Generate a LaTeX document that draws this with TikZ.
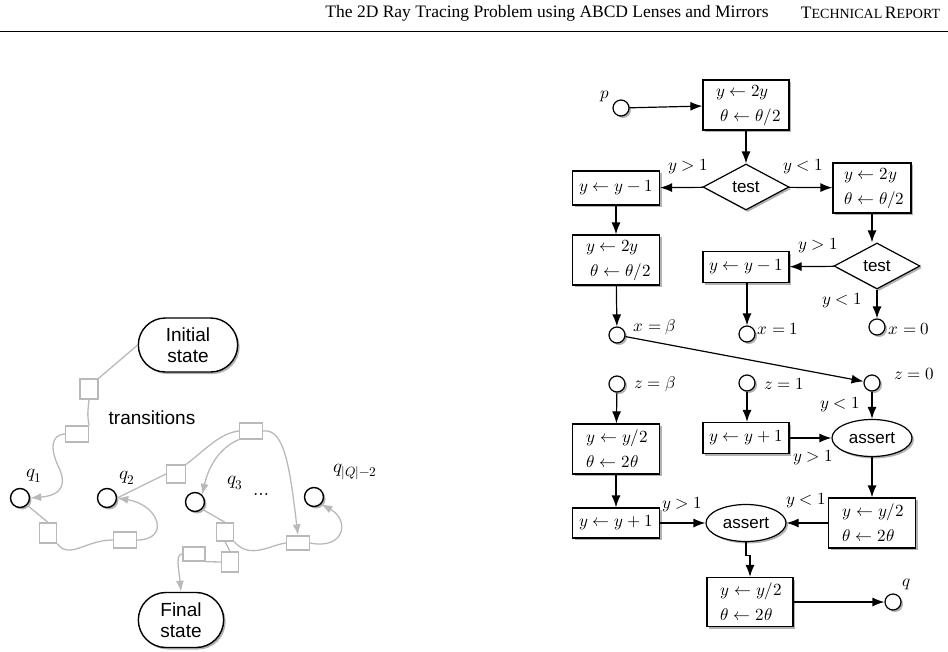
\documentclass[tikz,border=0pt]{standalone}
\usepackage{fontspec}
\setmainfont{Liberation Serif}
\usepackage{unicode-math}
\setmathfont{Latin Modern Math}
\newfontfamily\arialf{Liberation Sans}
\usetikzlibrary{arrows.meta,shapes.geometric,shapes.misc,shadows}
\newcommand{\fsc}[2]{{\fontsize{17.5}{20}\selectfont #1}{\fontsize{14}{20}\selectfont #2}}
\begin{document}
\begin{tikzpicture}[x=1pt,y=-1pt,line width=1.2pt,
  sh/.style={drop shadow={shadow xshift=2pt,shadow yshift=-2pt,opacity=0.3,fill=black}},
  box/.style={draw,fill=white,sh,inner sep=0pt,align=left,font=\fontsize{17}{25}\selectfont},
  dia/.style={draw,diamond,aspect=1.9,fill=white,inner sep=1pt,minimum width=86pt,minimum height=46pt,font=\arialf\fontsize{17}{19}\selectfont,sh},
  ell/.style={draw,ellipse,fill=white,minimum width=80pt,minimum height=37pt,inner sep=0pt,font=\arialf\fontsize{17}{19}\selectfont,sh},
  st/.style={draw,circle,fill=white,minimum size=16pt,inner sep=0pt,sh},
  lab/.style={font=\fontsize{17}{19}\selectfont,inner sep=1pt},
  ar/.style={-{Latex[length=12pt,width=9pt]}},
  gbox/.style={draw=gray!55,line width=1.3pt,fill=white,inner sep=0pt},
  gl/.style={draw=gray!55,line width=1.3pt},
  ga/.style={draw=gray!55,line width=1.3pt,-{Latex[length=11pt,width=8pt]}},
  lstate/.style={draw,line width=1.4pt,rounded rectangle,fill=white,align=center,font=\arialf\fontsize{19}{21}\selectfont,sh},
  q/.style={draw,line width=1.4pt,circle,fill=white,minimum size=19pt,inner sep=0pt,sh},
  ql/.style={font=\fontsize{19}{21}\selectfont}]
\useasboundingbox (0,0) rectangle (948,651);
% header
\node[font=\fontsize{17.5}{20}\selectfont] (title) at (547,13) {The 2D Ray Tracing Problem using ABCD Lenses and Mirrors};
\node[anchor=east] (tr) at (944,13) {\fsc{T}{ECHNICAL} \fsc{R}{EPORT}};
\coordinate (hl) at (0,31); \coordinate (hr) at (948,31);
\draw[line width=1pt] (hl) -- (hr);

% ---------- left diagram ----------
\node[lstate,minimum width=106pt,minimum height=54pt] (init) at (188,345) {Initial\\state};
\node[lstate,minimum width=92pt,minimum height=55pt] (fin) at (181,620) {Final\\state};
\node[font=\arialf\fontsize{19}{21}\selectfont] (trans) at (152,418) {transitions};
\node[q] (q1) at (20,498) {};
\node[q] (q2) at (107,498) {};
\node[q] (q3) at (195,502) {};
\node[q] (qn) at (314,497) {};
\node[ql] (lq1) at (34,476) {$q_1$};
\node[ql] (lq2) at (127,478) {$q_2$};
\node[ql] (lq3) at (235,483) {$q_3$};
\node[ql] (lqn) at (355,472) {$q_{|Q|-2}$};
\node[ql] (dots) at (263,494) {$\dots$};
\node[gbox,minimum width=18pt,minimum height=20pt] (b1) at (89,389) {};
\node[gbox,minimum width=23pt,minimum height=16pt] (b2) at (77,434) {};
\node[gbox,minimum width=17pt,minimum height=20pt] (b3) at (48,533) {};
\node[gbox,minimum width=23pt,minimum height=16pt] (b4) at (125,540) {};
\node[gbox,minimum width=19pt,minimum height=18pt] (b5) at (176,474) {};
\node[gbox,minimum width=23pt,minimum height=16pt] (b6) at (251,431) {};
\node[gbox,minimum width=17pt,minimum height=18pt] (b7) at (225,532) {};
\node[gbox,minimum width=23pt,minimum height=14pt] (b8) at (298,543) {};
\node[gbox,minimum width=22pt,minimum height=14pt] (b9) at (194,554) {};
\node[gbox,minimum width=17pt,minimum height=20pt] (b10) at (230,562) {};
\draw[gl] (init.west) -- (b1.north east);
\draw[gl] (b1.south) .. controls (88,410) and (87,415) .. (b2.north east);
\draw[ga] (b2.west) .. controls (50,435) and (50,450) .. (60,470) .. controls (68,490) and (55,496) .. (q1.east);
\draw[gl] (q1.south east) -- (b3.north);
\draw[gl] (b3.south east) .. controls (70,560) and (85,540) .. (b4.west);
\draw[ga] (b4.east) .. controls (170,540) and (160,505) .. (q2.east);
\draw[gl] (b5.west) -- (q2.east);
\draw[gl] (b5.north east) .. controls (205,450) and (220,433) .. (b6.west);
\draw[ga] (b6.south west) .. controls (225,445) and (210,460) .. (q3.north east);
\draw[ga] (b6.east) .. controls (285,428) and (290,470) .. (b8.north);
\draw[gl] (q3.south east) -- (b7.north);
\draw[gl] (b7.south east) .. controls (250,560) and (270,545) .. (b8.west);
\draw[ga] (b8.east) .. controls (345,550) and (350,520) .. (qn.south east);
\draw[gl] (b7.south) -- (b10.north);
\draw[gl] (b10.west) -- (b9.south east);
\draw[ga] (b9.west) .. controls (175,554) and (179,570) .. (fin.north);

% ---------- right diagram ----------
\node[st] (p) at (621,108) {};
\node[lab] (lp) at (605,96) {$p$};
\node[box,minimum width=86pt,minimum height=50pt] (B1) at (746,105) {$\;y\leftarrow 2y$\\$\;\;\theta\leftarrow\theta/2$};
\node[dia] (T1) at (746,187) {test};
\node[box,minimum width=87pt,minimum height=34pt] (L1) at (616,188) {$y\leftarrow y-1$};
\node[box,minimum width=78pt,minimum height=50pt] (R1) at (872,188) {$\;y\leftarrow 2y$\\$\;\theta\leftarrow\theta/2$};
\node[box,minimum width=87pt,minimum height=50pt] (L2) at (616,260) {$\;y\leftarrow 2y$\\$\;\;\theta\leftarrow\theta/2$};
\node[dia] (T2) at (877,266) {test};
\node[box,minimum width=86pt,minimum height=31pt] (M) at (746,267) {$y\leftarrow y-1$};
\node[st] (xb) at (617,335) {};
\node[st] (x1) at (747,334) {};
\node[st] (x0) at (877,327) {};
\node[lab,anchor=west] (lxb) at (632,327) {$x=\beta$};
\node[lab,anchor=west] (lx1) at (756,329) {$x=1$};
\node[lab,anchor=west] (lx0) at (887,329) {$x=0$};
\node[st] (zb) at (617,384) {};
\node[st] (z1) at (747,383) {};
\node[st] (z0) at (872,383) {};
\node[lab,anchor=west] (lzb) at (633,384) {$z=\beta$};
\node[lab,anchor=west] (lz1) at (763,384) {$z=1$};
\node[lab,anchor=west] (lz0) at (893,374) {$z=0$};
\node[box,minimum width=87pt,minimum height=50pt] (LL) at (616,449) {$\,y\leftarrow y/2$\\$\,\theta\leftarrow 2\theta$};
\node[box,minimum width=86pt,minimum height=31pt] (TP) at (746,438) {$y\leftarrow y+1$};
\node[ell] (A1) at (872,438) {assert};
\node[box,minimum width=87pt,minimum height=30pt] (LP) at (616,523) {$y\leftarrow y+1$};
\node[ell] (A2) at (746,523) {assert};
\node[box,minimum width=87pt,minimum height=50pt] (RR) at (872,523) {$\,y\leftarrow y/2$\\$\,\theta\leftarrow 2\theta$};
\node[box,minimum width=86pt,minimum height=49pt] (BB) at (750,602) {$\,y\leftarrow y/2$\\$\,\theta\leftarrow 2\theta$};
\node[st] (qq) at (893,602) {};
\node[lab] (lq) at (907,584) {$q$};
\node[lab] (c1) at (688,167) {$y>1$};
\node[lab] (c2) at (803,167) {$y<1$};
\node[lab] (c3) at (818,246) {$y>1$};
\node[lab] (c4) at (842,301) {$y<1$};
\node[lab] (c5) at (840,405) {$y<1$};
\node[lab] (c6) at (813,458) {$y>1$};
\node[lab] (c7) at (682,505) {$y>1$};
\node[lab] (c8) at (806,501) {$y<1$};

\draw[ar] (p) -- (B1);
\draw[ar] (B1) -- (T1);
\draw[ar] (T1) -- (L1);
\draw[ar] (T1) -- (R1);
\draw[ar] (L1) -- (L2);
\draw[ar] (R1.south) -- (T2.north -| R1.south);
\draw[ar] (T2) -- (M);
\draw[ar] (T2) -- (x0);
\draw[ar] (L2) -- (xb);
\draw[ar] (M.south -| x1) -- (x1);
\draw[ar] (xb) -- (z0);
\draw[ar] (zb) -- (LL);
\draw[ar] (z1) -- (TP.north -| z1);
\draw[ar] (z0) -- (A1);
\draw[ar] (TP) -- (A1);
\draw[ar] (A1) -- (RR);
\draw[ar] (LL) -- (LP);
\draw[ar] (LP) -- (A2);
\draw[ar] (RR) -- (A2);
\draw[ar] (A2.south) -- ++(0,13) -| (BB.north);
\draw[ar] (BB) -- (qq);
\end{tikzpicture}
\end{document}
